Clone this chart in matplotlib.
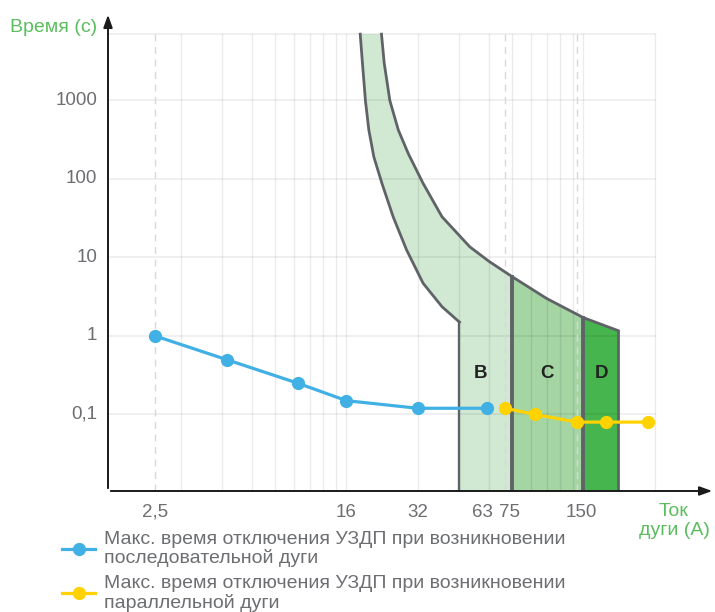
import numpy as np
import matplotlib.pyplot as plt
from matplotlib.transforms import offset_copy

plt.rcParams['font.family'] = ['Liberation Sans', 'DejaVu Sans']

# series: max trip time of the arc fault detection device
serial_current = [2.5, 5, 10, 16, 32, 63]
serial_time = [1.0, 0.5, 0.25, 0.15, 0.12, 0.12]
parallel_current = [75, 100, 150, 200, 300]
parallel_time = [0.12, 0.1, 0.08, 0.08, 0.08]

# breaker trip band
lower_current = [18.3, 18.7, 19.25, 19.9, 20.9, 22.6, 25.2, 28.7, 33.7, 40.5, 48.0]
lower_time = [7000, 3000, 1000, 420, 190, 88, 33, 12.5, 4.7, 2.36, 1.5]
upper_current = [22.5, 23.1, 24.4, 26.5, 29.2, 33.7, 40.5, 53, 64, 80, 112, 160, 224]
upper_time = [7000, 3000, 1000, 420, 210, 88, 33, 13.7, 8.9, 5.7, 3.0, 1.71, 1.17]

zone_names = ['B', 'C', 'D']
zone_edges = [48, 80, 160, 224]
zone_label_x = [59, 112, 190]

x_ticks = [2.5, 16, 32, 63, 75, 150]
x_tick_labels = ['2,5', '16', '32', '63', '75', '150']
x_label_nudge = [0, 0, 0, -5, 4, 4]  # px, keeps 63 and 75 apart
y_ticks = [1000, 100, 10, 1, 0.1]
y_tick_labels = ['1000', '100', '10', '1', '0,1']
dashed_x = [2.5, 75, 150]

GREEN_TXT = '#5cbd5f'
GREY_TXT = '#6d6e71'
EDGE = '#5f6368'
BLUE = '#41b0e4'
YELLOW = '#ffd200'
ZONE_COLORS = ['#d1e8d2', '#a4d5a3', '#47b54e']

XMIN, XMAX = 1.58, 574
YMIN, YMAX = 0.0106, 13400
GRID_TOP, GRID_RIGHT = 7000, 320

fig = plt.figure(figsize=(7.15, 6.12), dpi=100)
ax = fig.add_axes([108 / 715, 121 / 612, 607 / 715, 479 / 612])
ax.set_xscale('log')
ax.set_yscale('log')
ax.set_xlim(XMIN, XMAX)
ax.set_ylim(YMIN, YMAX)
for s in ax.spines.values():
    s.set_visible(False)
ax.set_xticks([])
ax.set_yticks([])
ax.minorticks_off()

# zone fills
lc = np.array(lower_current)
lt = np.array(lower_time)
uc = np.array(upper_current)
ut = np.array(upper_time)
i80 = upper_current.index(80)
i160 = upper_current.index(160)
b_x = list(lc) + [48, 80] + list(uc[:i80 + 1][::-1])
b_y = list(lt) + [YMIN, YMIN] + list(ut[:i80 + 1][::-1])
ax.fill(b_x, b_y, color=ZONE_COLORS[0], lw=0, zorder=1)
c_x = [80] + list(uc[i80:i160 + 1]) + [160]
c_y = [YMIN] + list(ut[i80:i160 + 1]) + [YMIN]
ax.fill(c_x, c_y, color=ZONE_COLORS[1], lw=0, zorder=1)
d_x = [160] + list(uc[i160:]) + [uc[-1]]
d_y = [YMIN] + list(ut[i160:]) + [YMIN]
ax.fill(d_x, d_y, color=ZONE_COLORS[2], lw=0, zorder=1)

# grid (drawn over the fills, faint)
minor = [1.6 * k for k in range(2, 11)] + [16 * k for k in range(2, 11)] + [320]
for v in minor:
    ax.plot([v, v], [YMIN, GRID_TOP], color='black', alpha=0.08, lw=1, zorder=2)
for v in y_ticks + [GRID_TOP]:
    ax.plot([XMIN, GRID_RIGHT], [v, v], color='black', alpha=0.07, lw=1.2, zorder=2)
for v in dashed_x:
    ax.plot([v, v], [YMIN, GRID_TOP], color='#d8d8d8', lw=1, ls=(0, (5, 4)), zorder=2)

# band outlines
ax.plot(lc, lt, color=EDGE, lw=2, zorder=3, solid_joinstyle='round')
ax.plot([48, 48], [YMIN, lt[-1]], color=EDGE, lw=1.7, zorder=3)
ax.plot(uc, ut, color=EDGE, lw=2, zorder=3, solid_joinstyle='round')
ax.plot([80, 80], [YMIN, ut[i80]], color=EDGE, lw=2.8, zorder=3)
ax.plot([160, 160], [YMIN, ut[i160]], color=EDGE, lw=2.8, zorder=3)
ax.plot([uc[-1], uc[-1]], [YMIN, ut[-1]], color=EDGE, lw=2, zorder=3)

for name, x in zip(zone_names, zone_label_x):
    ax.text(x, 0.33, name, ha='center', va='center',
            fontsize=13.5, fontweight='bold', color='#222222', zorder=4)

# series
ax.plot(serial_current, serial_time, color=BLUE, lw=2.3, marker='o', ms=8.5,
        zorder=5, label='Макс. время отключения УЗДП при возникновении\nпоследовательной дуги')
ax.plot(parallel_current, parallel_time, color=YELLOW, lw=2.3, marker='o', ms=8.5,
        zorder=5, label='Макс. время отключения УЗДП при возникновении\nпараллельной дуги')

# axes with arrows
arrow = dict(arrowstyle='-|>,head_length=0.75,head_width=0.27', color='#1a1a1a', lw=1.4)
ax.annotate('', xy=(1.0, 0), xytext=(0, 0), xycoords='axes fraction',
            arrowprops=arrow, zorder=6)
ax.annotate('', xy=(0, 1.0), xytext=(0, 0), xycoords='axes fraction',
            arrowprops=arrow, zorder=6)

# tick labels
trans_x = ax.get_xaxis_transform()
for v, t, dx in zip(x_ticks, x_tick_labels, x_label_nudge):
    tr = offset_copy(trans_x, fig=fig, x=dx * 0.72, y=0, units='points')
    ax.text(v, -0.044, t, transform=tr, ha='center', va='center',
            fontsize=13.5, color=GREY_TXT)
trans_y = ax.get_yaxis_transform()
for v, t in zip(y_ticks, y_tick_labels):
    ax.text(-0.018, v, t, transform=trans_y, ha='right', va='center',
            fontsize=13.5, color=GREY_TXT)

fig.text(97 / 715, 1 - 27 / 612, 'Время (с)', ha='right', va='center',
         fontsize=14, color=GREEN_TXT)
fig.text(674 / 715, 1 - 521 / 612, 'Ток\nдуги (А)', ha='center', va='center',
         fontsize=14, color=GREEN_TXT, linespacing=1.1)

leg = ax.legend(loc='upper left', bbox_to_anchor=(62 / 715, 1 - 531 / 612),
                bbox_transform=fig.transFigure, frameon=False, fontsize=14,
                handlelength=1.7, handletextpad=0.46, labelspacing=0.4,
                labelcolor=GREY_TXT, borderpad=0, borderaxespad=0)
for t in leg.get_texts():
    t.set_linespacing(1.1)

fig.savefig('out.png', dpi=100)
